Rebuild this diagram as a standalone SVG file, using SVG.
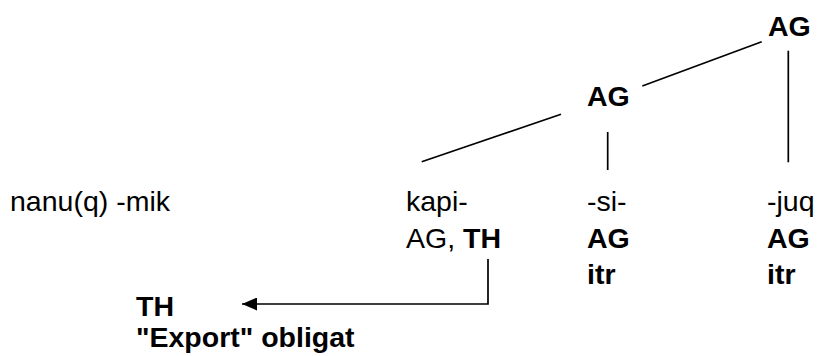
<svg xmlns="http://www.w3.org/2000/svg" width="819" height="356" viewBox="0 0 819 356">
<style>
text{font-family:"Liberation Sans",Arial,sans-serif;font-size:28.5px;fill:#000}
.b{font-weight:bold}
.ln{stroke:#000;stroke-width:1.7;fill:none}
</style>
<defs>
<marker id="ah" markerWidth="15" markerHeight="13" refX="15" refY="6.5" orient="auto" markerUnits="userSpaceOnUse">
<path d="M0,0 L15,6.5 L0,13 Z" fill="#000"/>
</marker>
</defs>
<rect width="819" height="356" fill="#fff"/>
<g id="connectors">
<line class="ln" x1="761.7" y1="41.7" x2="642.3" y2="86"/>
<line class="ln" x1="788.3" y1="50.7" x2="788.3" y2="162.3"/>
<line class="ln" x1="561" y1="114.3" x2="421.7" y2="161.7"/>
<line class="ln" x1="607.7" y1="132" x2="607.7" y2="170"/>
<polyline class="ln" points="488,259 488,304 242,304" marker-end="url(#ah)"/>
</g>
<g id="ag-top"><text class="b" x="768" y="36">AG</text></g>
<g id="ag-mid"><text class="b" x="587" y="106">AG</text></g>
<g id="nanu"><text x="10" y="211">nanu(q) -mik</text></g>
<g id="kapi"><text x="406" y="211">kapi-</text><text x="406" y="248">AG, <tspan class="b">TH</tspan></text></g>
<g id="si"><text x="587" y="211">-si-</text><text class="b" x="587" y="248">AG</text><text class="b" x="587" y="284">itr</text></g>
<g id="juq"><text x="767" y="211">-juq</text><text class="b" x="767" y="248">AG</text><text class="b" x="767" y="284">itr</text></g>
<g id="th-export"><text class="b" x="136" y="316">TH</text><text class="b" x="136" y="347">"Export" obligat</text></g>
</svg>
